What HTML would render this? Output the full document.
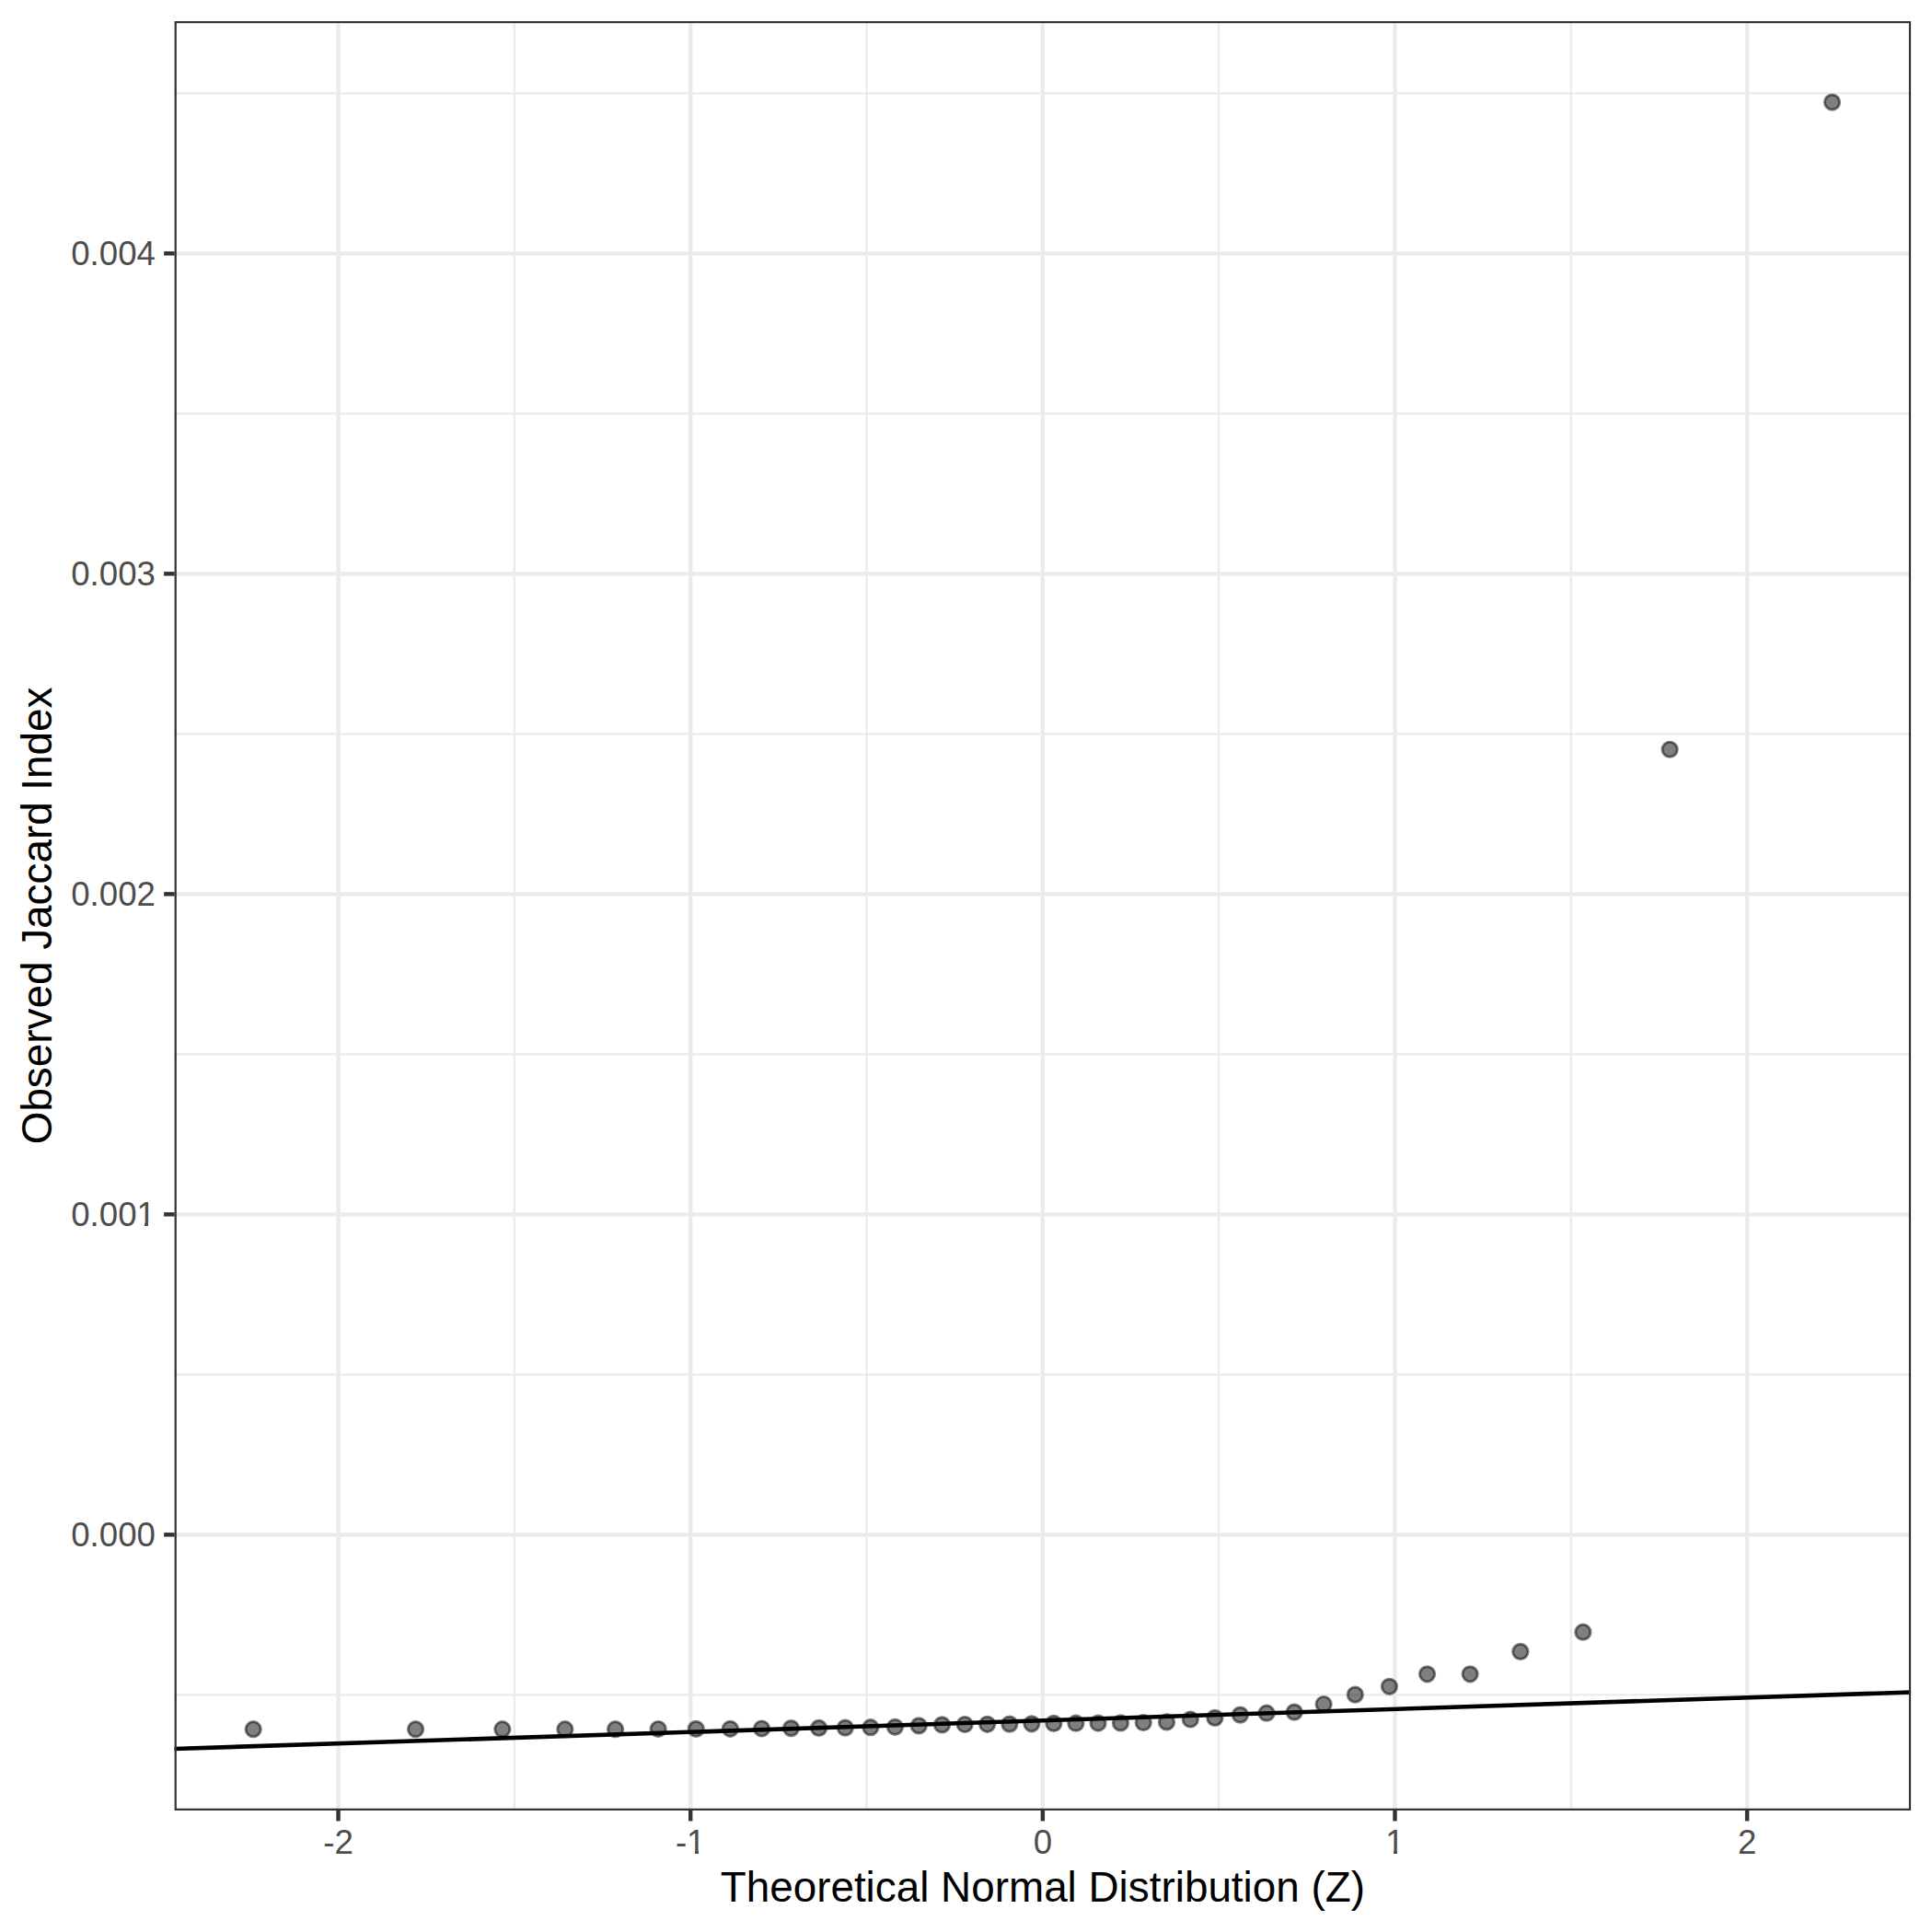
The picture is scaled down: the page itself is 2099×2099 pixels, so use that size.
<!DOCTYPE html>
<html lang="en"><head><meta charset="utf-8"><title>QQ plot</title>
<style>html,body{margin:0;padding:0;background:#fff}svg{display:block}text{font-family:"Liberation Sans",sans-serif}</style></head><body>
<svg width="2099" height="2099" viewBox="0 0 2099 2099">
<rect width="2099" height="2099" fill="#fff"/>
<clipPath id="p"><rect x="189.6" y="22.9" width="1886.50" height="1944.10"/></clipPath>
<g clip-path="url(#p)">
<g stroke="#ebebeb" stroke-width="2.23" fill="none">
<line x1="558.88" x2="558.88" y1="22.9" y2="1967.0"/>
<line x1="941.52" x2="941.52" y1="22.9" y2="1967.0"/>
<line x1="1324.17" x2="1324.17" y1="22.9" y2="1967.0"/>
<line x1="1706.82" x2="1706.82" y1="22.9" y2="1967.0"/>
<line y1="1841.35" y2="1841.35" x1="189.6" x2="2076.1"/>
<line y1="1493.35" y2="1493.35" x1="189.6" x2="2076.1"/>
<line y1="1145.35" y2="1145.35" x1="189.6" x2="2076.1"/>
<line y1="797.35" y2="797.35" x1="189.6" x2="2076.1"/>
<line y1="449.35" y2="449.35" x1="189.6" x2="2076.1"/>
<line y1="101.35" y2="101.35" x1="189.6" x2="2076.1"/>
</g>
<g stroke="#ebebeb" stroke-width="4.45" fill="none">
<line x1="367.55" x2="367.55" y1="22.9" y2="1967.0"/>
<line x1="750.20" x2="750.20" y1="22.9" y2="1967.0"/>
<line x1="1132.85" x2="1132.85" y1="22.9" y2="1967.0"/>
<line x1="1515.50" x2="1515.50" y1="22.9" y2="1967.0"/>
<line x1="1898.15" x2="1898.15" y1="22.9" y2="1967.0"/>
<line y1="1667.35" y2="1667.35" x1="189.6" x2="2076.1"/>
<line y1="1319.35" y2="1319.35" x1="189.6" x2="2076.1"/>
<line y1="971.35" y2="971.35" x1="189.6" x2="2076.1"/>
<line y1="623.35" y2="623.35" x1="189.6" x2="2076.1"/>
<line y1="275.35" y2="275.35" x1="189.6" x2="2076.1"/>
</g>
<g fill="#000" fill-opacity="0.5" stroke="#000" stroke-opacity="0.5" stroke-width="2.95">
<circle cx="275.18" cy="1878.70" r="8.14"/>
<circle cx="451.56" cy="1878.70" r="8.14"/>
<circle cx="545.82" cy="1878.70" r="8.14"/>
<circle cx="613.86" cy="1878.70" r="8.14"/>
<circle cx="668.57" cy="1878.70" r="8.14"/>
<circle cx="715.14" cy="1878.50" r="8.14"/>
<circle cx="756.23" cy="1878.40" r="8.14"/>
<circle cx="793.38" cy="1878.30" r="8.14"/>
<circle cx="827.58" cy="1878.00" r="8.14"/>
<circle cx="859.50" cy="1877.60" r="8.14"/>
<circle cx="889.62" cy="1877.40" r="8.14"/>
<circle cx="918.30" cy="1877.10" r="8.14"/>
<circle cx="945.82" cy="1876.70" r="8.14"/>
<circle cx="972.41" cy="1876.30" r="8.14"/>
<circle cx="998.24" cy="1874.90" r="8.14"/>
<circle cx="1023.47" cy="1873.90" r="8.14"/>
<circle cx="1048.24" cy="1873.50" r="8.14"/>
<circle cx="1072.66" cy="1873.30" r="8.14"/>
<circle cx="1096.83" cy="1873.10" r="8.14"/>
<circle cx="1120.86" cy="1872.80" r="8.14"/>
<circle cx="1144.84" cy="1872.40" r="8.14"/>
<circle cx="1168.87" cy="1872.20" r="8.14"/>
<circle cx="1193.04" cy="1872.05" r="8.14"/>
<circle cx="1217.46" cy="1871.90" r="8.14"/>
<circle cx="1242.23" cy="1871.50" r="8.14"/>
<circle cx="1267.46" cy="1870.90" r="8.14"/>
<circle cx="1293.29" cy="1868.00" r="8.14"/>
<circle cx="1319.88" cy="1866.40" r="8.14"/>
<circle cx="1347.40" cy="1863.10" r="8.14"/>
<circle cx="1376.08" cy="1861.20" r="8.14"/>
<circle cx="1406.20" cy="1860.10" r="8.14"/>
<circle cx="1438.12" cy="1851.50" r="8.14"/>
<circle cx="1472.32" cy="1841.10" r="8.14"/>
<circle cx="1509.47" cy="1832.30" r="8.14"/>
<circle cx="1550.56" cy="1818.80" r="8.14"/>
<circle cx="1597.13" cy="1818.80" r="8.14"/>
<circle cx="1651.84" cy="1794.40" r="8.14"/>
<circle cx="1719.88" cy="1773.20" r="8.14"/>
<circle cx="1814.14" cy="814.25" r="8.14"/>
<circle cx="1990.52" cy="111.05" r="8.14"/>
</g>
<line x1="184.6" y1="1900.16" x2="2081.1" y2="1838.34" stroke="#000" stroke-width="4.6"/>
<rect x="189.6" y="22.9" width="1886.50" height="1944.10" fill="none" stroke="#333" stroke-width="4.45"/>
</g>
<g stroke="#333" stroke-width="4.45">
<line x1="367.55" x2="367.55" y1="1967.0" y2="1978.46"/>
<line x1="750.20" x2="750.20" y1="1967.0" y2="1978.46"/>
<line x1="1132.85" x2="1132.85" y1="1967.0" y2="1978.46"/>
<line x1="1515.50" x2="1515.50" y1="1967.0" y2="1978.46"/>
<line x1="1898.15" x2="1898.15" y1="1967.0" y2="1978.46"/>
<line y1="1667.35" y2="1667.35" x1="178.14" x2="189.6"/>
<line y1="1319.35" y2="1319.35" x1="178.14" x2="189.6"/>
<line y1="971.35" y2="971.35" x1="178.14" x2="189.6"/>
<line y1="623.35" y2="623.35" x1="178.14" x2="189.6"/>
<line y1="275.35" y2="275.35" x1="178.14" x2="189.6"/>
</g>
<g fill="#4d4d4d" font-size="36.67">
<text x="367.55" y="2014.2" text-anchor="middle">-2</text>
<text x="750.20" y="2014.2" text-anchor="middle">-1</text>
<text x="1132.85" y="2014.2" text-anchor="middle">0</text>
<text x="1515.50" y="2014.2" text-anchor="middle">1</text>
<text x="1898.15" y="2014.2" text-anchor="middle">2</text>
<text x="168.95" y="1680.05" text-anchor="end">0.000</text>
<text x="168.95" y="1332.05" text-anchor="end">0.001</text>
<text x="168.95" y="984.05" text-anchor="end">0.002</text>
<text x="168.95" y="636.05" text-anchor="end">0.003</text>
<text x="168.95" y="288.05" text-anchor="end">0.004</text>
</g>
<g fill="#000" font-size="45.83">
<text x="1132.85" y="2066.3" text-anchor="middle">Theoretical Normal Distribution (Z)</text>
<text transform="translate(56.1,994.9) rotate(-90)" text-anchor="middle">Observed Jaccard Index</text>
</g>
<g fill="#fff">
<rect x="1506" y="2010" width="8" height="6"/><rect x="1518" y="2010" width="8" height="6"/>
<rect x="746" y="2010" width="9" height="6"/><rect x="759" y="2010" width="8" height="6"/>
<rect x="149" y="1328" width="8" height="6"/><rect x="161" y="1328" width="8" height="6"/>
</g>
</svg></body></html>
